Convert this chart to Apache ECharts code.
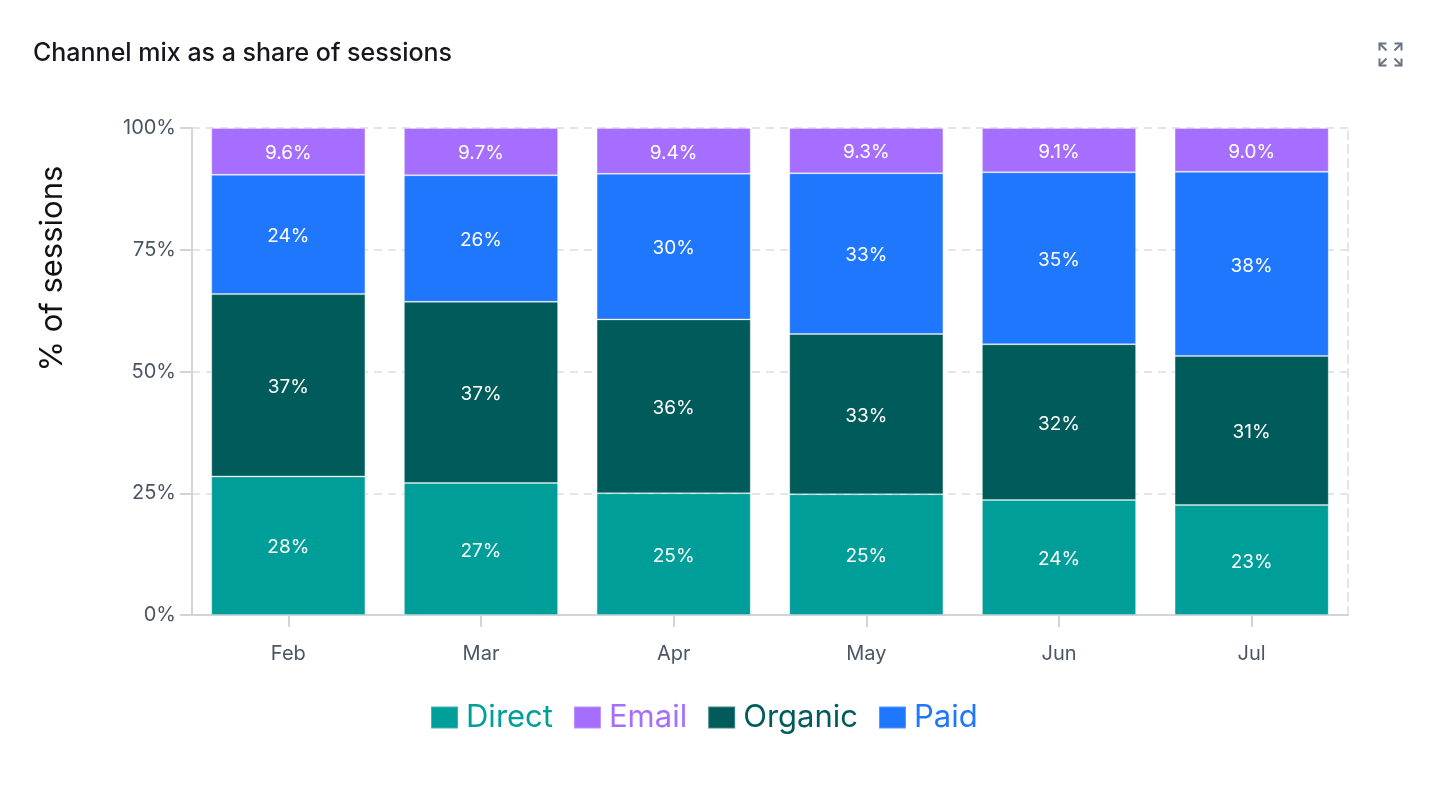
<!DOCTYPE html>
<html>
<head>
<meta charset="utf-8">
<script src="https://cdn.jsdelivr.net/npm/echarts@6/dist/echarts.min.js"></script>
<style>
  html, body { margin: 0; padding: 0; background: #fff; }
  #main { width: 1440px; height: 788px; }
</style>
</head>
<body>
<div id="main"></div>
<script>
// months
var months = ['Feb', 'Mar', 'Apr', 'May', 'Jun', 'Jul'];
// share of sessions, %
var direct = [28.45, 27.1, 25.0, 24.8, 23.6, 22.6];
var organic = [37.45, 37.2, 35.7, 32.9, 32.0, 30.6];
var paid = [24.48, 26.0, 29.9, 33.0, 35.3, 37.8];
var email = [9.62, 9.7, 9.4, 9.3, 9.1, 9.0];
var yTicks = [0, 25, 50, 75, 100];

var colors = {
  Direct: '#009e99',
  Email: '#a66efe',
  Organic: '#005c5a',
  Paid: '#1f77fe'
};
var fontFamily = 'Inter, "Noto Sans", sans-serif';

var chartDom = document.getElementById('main');
var myChart = echarts.init(chartDom);

function mkSeries(name, data, decimals) {
  return {
    name: name,
    type: 'bar',
    stack: 'total',
    barCategoryGap: '20%',
    data: data,
    itemStyle: {
      color: colors[name],
      borderColor: 'rgba(255,255,255,0.25)',
      borderWidth: 1
    },
    label: {
      show: true,
      position: 'inside',
      color: '#fff',
      fontSize: 19,
      fontFamily: fontFamily,
      offset: [0, 2],
      formatter: function (p) { return p.value.toFixed(decimals) + '%'; }
    },
    emphasis: { disabled: true }
  };
}

var option = {
  animation: false,
  title: {
    text: 'Channel mix as a share of sessions',
    left: 28,
    top: 36,
    textStyle: { fontSize: 25, fontWeight: 500, color: '#16161d', fontFamily: fontFamily }
  },
  legend: {
    data: ['Direct', 'Email', 'Organic', 'Paid'],
    bottom: 50,
    left: 425,
    icon: 'rect',
    itemWidth: 27,
    itemHeight: 22,
    itemGap: 20,
    textStyle: { fontSize: 31, fontFamily: fontFamily, padding: [0, 0, 0, 3] },
    selectedMode: false
  },
  grid: { left: 192, right: 92, top: 128, bottom: 173 },
  xAxis: {
    type: 'category',
    data: months,
    axisLine: { lineStyle: { color: '#d1d5db', width: 2 } },
    axisTick: { show: true, alignWithLabel: true, length: 12, lineStyle: { color: '#d1d5db', width: 2 } },
    axisLabel: { fontSize: 20, color: '#4b5563', margin: 29, fontFamily: fontFamily }
  },
  yAxis: [{
    type: 'value',
    min: yTicks[0],
    max: yTicks[yTicks.length - 1],
    interval: 25,
    name: '% of sessions',
    nameLocation: 'middle',
    nameGap: 124,
    nameTextStyle: { fontSize: 31, color: '#111', fontFamily: fontFamily, align: 'left' },
    axisLine: { show: true, lineStyle: { color: '#d1d5db', width: 2 } },
    axisTick: { show: true, length: 12, lineStyle: { color: '#d1d5db', width: 2 } },
    axisLabel: { fontSize: 20, color: '#4b5563', margin: 16, fontFamily: fontFamily, formatter: '{value}%' },
    splitLine: { lineStyle: { color: '#e3e5e8', type: [8, 6], width: 2 } }
  }, {
    type: 'value',
    position: 'right',
    min: 0,
    max: 100,
    axisLine: { show: true, lineStyle: { color: '#e3e5e8', type: [8, 6], width: 2 } },
    axisTick: { show: false },
    axisLabel: { show: false },
    splitLine: { show: false }
  }],
  graphic: [{
    type: 'group',
    left: 1377,
    top: 41,
    children: [
      { type: 'polyline', shape: { points: [[0, 7], [0, 0], [7, 0]] }, style: { stroke: '#6b7280', lineWidth: 2, fill: null } },
      { type: 'line', shape: { x1: 0, y1: 0, x2: 7, y2: 7 }, style: { stroke: '#6b7280', lineWidth: 2 } },
      { type: 'polyline', shape: { points: [[15, 0], [22, 0], [22, 7]] }, style: { stroke: '#6b7280', lineWidth: 2, fill: null } },
      { type: 'line', shape: { x1: 22, y1: 0, x2: 15, y2: 7 }, style: { stroke: '#6b7280', lineWidth: 2 } },
      { type: 'polyline', shape: { points: [[0, 15], [0, 22], [7, 22]] }, style: { stroke: '#6b7280', lineWidth: 2, fill: null } },
      { type: 'line', shape: { x1: 0, y1: 22, x2: 7, y2: 15 }, style: { stroke: '#6b7280', lineWidth: 2 } },
      { type: 'polyline', shape: { points: [[15, 22], [22, 22], [22, 15]] }, style: { stroke: '#6b7280', lineWidth: 2, fill: null } },
      { type: 'line', shape: { x1: 22, y1: 22, x2: 15, y2: 15 }, style: { stroke: '#6b7280', lineWidth: 2 } }
    ]
  }],
  series: [
    mkSeries('Direct', direct, 0),
    mkSeries('Organic', organic, 0),
    mkSeries('Paid', paid, 0),
    mkSeries('Email', email, 1)
  ]
};

// legend text coloured like its series
option.legend.data = option.legend.data.map(function (n) {
  return { name: n, textStyle: { color: colors[n] } };
});

option && myChart.setOption(option);
</script>
</body>
</html>
